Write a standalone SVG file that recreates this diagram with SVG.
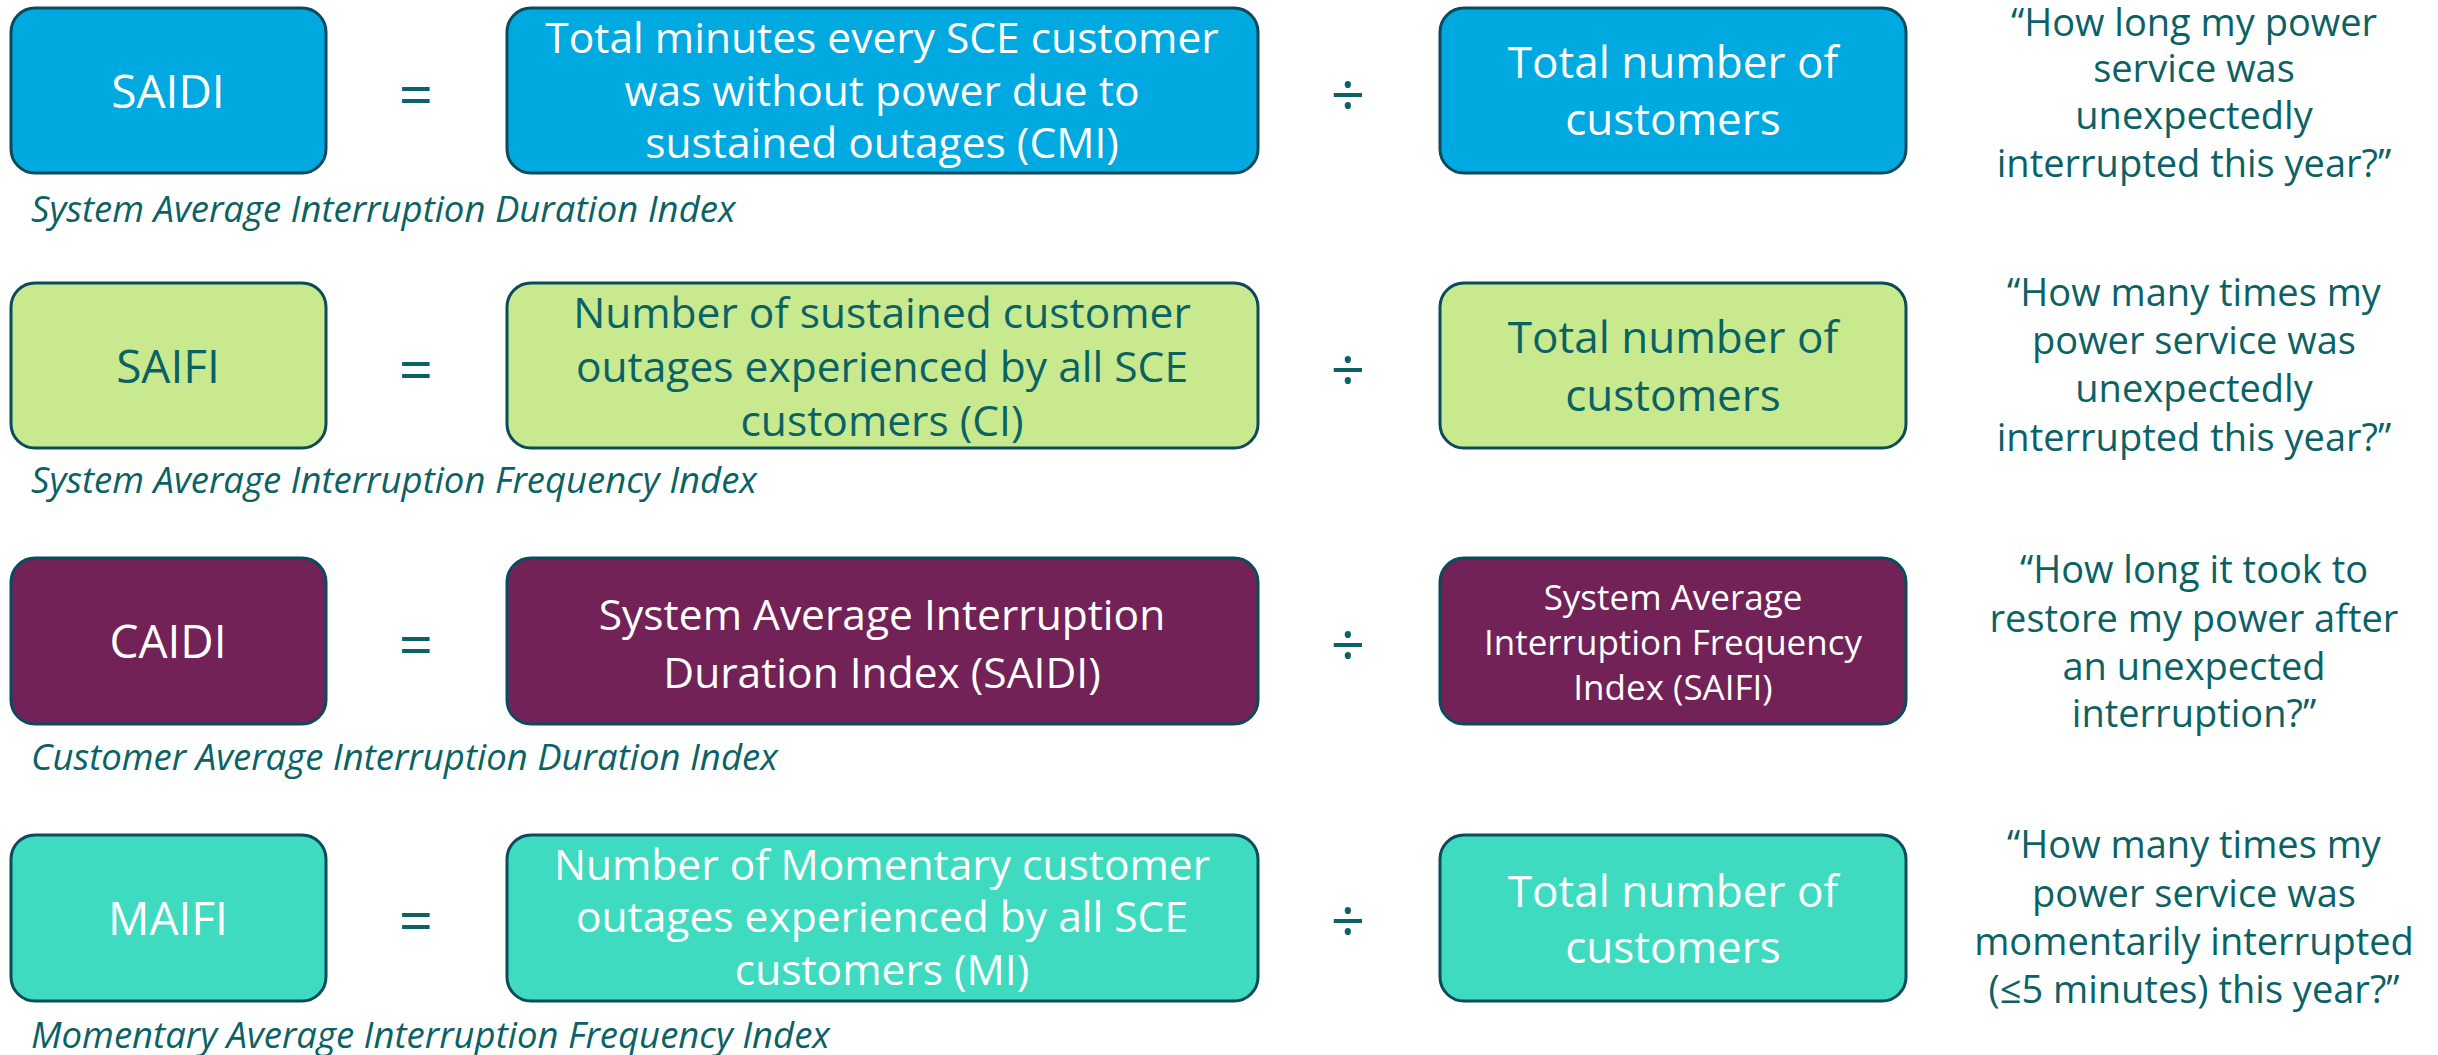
<svg xmlns="http://www.w3.org/2000/svg" width="2438" height="1055" viewBox="0 0 2438 1055">
<style>
text{font-family:"Open Sans","Noto Sans","Liberation Sans",sans-serif;text-anchor:middle}
.box{stroke:#0b4b5c;stroke-width:3}
.b{fill:#00a9e0}.g{fill:#c9e98e}.p{fill:#722257}.t{fill:#3fdbc1}
.w{fill:#ffffff}.d{fill:#0b6265}
.k{font-size:46px}.m{font-size:42.5px}.n{font-size:44px}.s{font-size:35px}.q{font-size:38px;fill:#0b6265}
.op{font-size:60px;fill:#0b6265}
.sub{font-size:36.5px;font-style:italic;fill:#0b6265;text-anchor:start}
</style>
<rect width="2438" height="1055" fill="#ffffff"/>
<g id="connectors">
<text class="op" x="416" y="116">=</text>
<text class="op" x="1348" y="116">÷</text>
<text class="op" x="416" y="391">=</text>
<text class="op" x="1348" y="391">÷</text>
<text class="op" x="416" y="666">=</text>
<text class="op" x="1348" y="666">÷</text>
<text class="op" x="416" y="942">=</text>
<text class="op" x="1348" y="942">÷</text>
</g>
<g id="saidi">
<rect class="box b" x="11" y="8" width="315" height="165" rx="24"/>
<text class="k w" x="168" y="108">SAIDI</text>
<text class="sub" x="31" y="222">System Average Interruption Duration Index</text>
</g>
<g id="saidi-num">
<rect class="box b" x="507" y="8" width="751" height="165" rx="24"/>
<text class="m w" x="882" y="53">Total minutes every SCE customer</text>
<text class="m w" x="882" y="106">was without power due to</text>
<text class="m w" x="882" y="158">sustained outages (CMI)</text>
</g>
<g id="saidi-den">
<rect class="box b" x="1440" y="8" width="466" height="165" rx="24"/>
<text class="n w" x="1673" y="78">Total number of</text>
<text class="n w" x="1673" y="135">customers</text>
</g>
<g id="saidi-q">
<text class="q" x="2194" y="36">“How long my power</text>
<text class="q" x="2194" y="82">service was</text>
<text class="q" x="2194" y="129">unexpectedly</text>
<text class="q" x="2194" y="177">interrupted this year?”</text>
</g>
<g id="saifi">
<rect class="box g" x="11" y="283" width="315" height="165" rx="24"/>
<text class="k d" x="168" y="383">SAIFI</text>
<text class="sub" x="31" y="493">System Average Interruption Frequency Index</text>
</g>
<g id="saifi-num">
<rect class="box g" x="507" y="283" width="751" height="165" rx="24"/>
<text class="m d" x="882" y="328">Number of sustained customer</text>
<text class="m d" x="882" y="382">outages experienced by all SCE</text>
<text class="m d" x="882" y="436">customers (CI)</text>
</g>
<g id="saifi-den">
<rect class="box g" x="1440" y="283" width="466" height="165" rx="24"/>
<text class="n d" x="1673" y="353">Total number of</text>
<text class="n d" x="1673" y="411">customers</text>
</g>
<g id="saifi-q">
<text class="q" x="2194" y="306">“How many times my</text>
<text class="q" x="2194" y="354">power service was</text>
<text class="q" x="2194" y="402">unexpectedly</text>
<text class="q" x="2194" y="451">interrupted this year?”</text>
</g>
<g id="caidi">
<rect class="box p" x="11" y="558" width="315" height="166" rx="24"/>
<text class="k w" x="168" y="658">CAIDI</text>
<text class="sub" x="31" y="770">Customer Average Interruption Duration Index</text>
</g>
<g id="caidi-num">
<rect class="box p" x="507" y="558" width="751" height="166" rx="24"/>
<text class="m w" x="882" y="630">System Average Interruption</text>
<text class="m w" x="882" y="688">Duration Index (SAIDI)</text>
</g>
<g id="caidi-den">
<rect class="box p" x="1440" y="558" width="466" height="166" rx="24"/>
<text class="s w" x="1673" y="610">System Average</text>
<text class="s w" x="1673" y="655">Interruption Frequency</text>
<text class="s w" x="1673" y="700">Index (SAIFI)</text>
</g>
<g id="caidi-q">
<text class="q" x="2194" y="583">“How long it took to</text>
<text class="q" x="2194" y="632">restore my power after</text>
<text class="q" x="2194" y="680">an unexpected</text>
<text class="q" x="2194" y="727">interruption?”</text>
</g>
<g id="maifi">
<rect class="box t" x="11" y="835" width="315" height="166" rx="24"/>
<text class="k w" x="168" y="935">MAIFI</text>
<text class="sub" x="31" y="1048">Momentary Average Interruption Frequency Index</text>
</g>
<g id="maifi-num">
<rect class="box t" x="507" y="835" width="751" height="166" rx="24"/>
<text class="m w" x="882" y="880">Number of Momentary customer</text>
<text class="m w" x="882" y="932">outages experienced by all SCE</text>
<text class="m w" x="882" y="985">customers (MI)</text>
</g>
<g id="maifi-den">
<rect class="box t" x="1440" y="835" width="466" height="166" rx="24"/>
<text class="n w" x="1673" y="907">Total number of</text>
<text class="n w" x="1673" y="963">customers</text>
</g>
<g id="maifi-q">
<text class="q" x="2194" y="858">“How many times my</text>
<text class="q" x="2194" y="907">power service was</text>
<text class="q" x="2194" y="955">momentarily interrupted</text>
<text class="q" x="2194" y="1003">(≤5 minutes) this year?”</text>
</g>
</svg>
